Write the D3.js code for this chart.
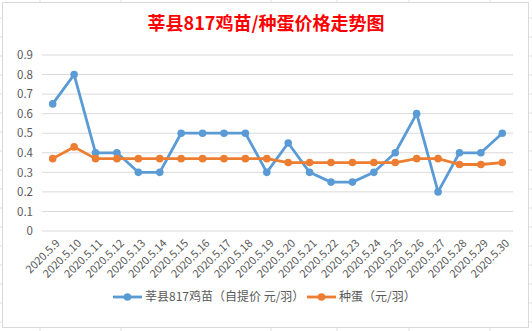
<!DOCTYPE html>
<html>
<head>
<meta charset="utf-8">
<script src="https://cdn.jsdelivr.net/npm/d3@7"></script>
<style>
  body { margin: 0; background: #fff; }
  text { font-family: "Noto Sans CJK SC", "Noto Sans", sans-serif; }
</style>
</head>
<body>
<div id="chart"></div>
<script>
// data
var dates = ["2020.5.9", "2020.5.10", "2020.5.11", "2020.5.12", "2020.5.13", "2020.5.14",
  "2020.5.15", "2020.5.16", "2020.5.17", "2020.5.18", "2020.5.19", "2020.5.20",
  "2020.5.21", "2020.5.22", "2020.5.23", "2020.5.24", "2020.5.25", "2020.5.26",
  "2020.5.27", "2020.5.28", "2020.5.29", "2020.5.30"];
var chicks = [0.65, 0.8, 0.4, 0.4, 0.3, 0.3, 0.5, 0.5, 0.5, 0.5, 0.3, 0.45,
  0.3, 0.25, 0.25, 0.3, 0.4, 0.6, 0.2, 0.4, 0.4, 0.5];
var eggs = [0.37, 0.43, 0.37, 0.37, 0.37, 0.37, 0.37, 0.37, 0.37, 0.37, 0.37, 0.35,
  0.35, 0.35, 0.35, 0.35, 0.35, 0.37, 0.37, 0.34, 0.34, 0.35];
var yTicks = [0, 0.1, 0.2, 0.3, 0.4, 0.5, 0.6, 0.7, 0.8, 0.9];
var seriesNames = ["莘县817鸡苗（自提价 元/羽）", "种蛋（元/羽）"];
var colors = ["#5b9bd5", "#ed7d31"];

var W = 532, H = 331;
var margin = {top: 55, right: 19, bottom: 100, left: 42},
    width = W - margin.left - margin.right,
    height = H - margin.top - margin.bottom;

var root = d3.select("#chart").append("svg")
  .attr("width", W)
  .attr("height", H);

// spreadsheet cells peeking out behind the chart
root.append("rect").attr("width", W).attr("height", H).attr("fill", "#fff");
[40, 121, 271, 337, 409, 490].forEach(function(x) {
  root.append("line").attr("x1", x).attr("x2", x).attr("y1", 0).attr("y2", H)
    .attr("stroke", "#e1e1e1");
});
[18, 37, 56, 75, 94, 113, 132, 151, 170, 189, 208, 227, 246, 265, 284, 303, 322].forEach(function(y) {
  root.append("line").attr("x1", 0).attr("x2", W).attr("y1", y).attr("y2", y)
    .attr("stroke", "#e1e1e1");
});

// chart area
root.append("rect")
  .attr("x", 2.5).attr("y", 2.5)
  .attr("width", 526).attr("height", 325)
  .attr("fill", "#fff")
  .attr("stroke", "#d9d9d9");

// title
root.append("text")
  .attr("x", 266).attr("y", 30)
  .attr("text-anchor", "middle")
  .attr("fill", "#ff0000")
  .style("font-size", "18px")
  .style("font-weight", "bold")
  .text("莘县817鸡苗/种蛋价格走势图");

var svg = root.append("g")
  .attr("transform", "translate(" + margin.left + "," + margin.top + ")");

var x = d3.scaleBand().domain(dates).range([0, width]);
var y = d3.scaleLinear().domain([0, 0.9]).range([height, 0]);

// gridlines
svg.selectAll(".grid").data(yTicks).enter().append("line")
  .attr("x1", 0).attr("x2", width)
  .attr("y1", function(d) { return y(d); })
  .attr("y2", function(d) { return y(d); })
  .attr("stroke", "#d9d9d9");

// y axis
var yAxis = svg.append("g")
  .call(d3.axisLeft(y).tickValues(yTicks).tickSize(0).tickPadding(9)
    .tickFormat(function(d) { return d === 0 ? "0" : d3.format(".1f")(d); }));
yAxis.select(".domain").remove();
yAxis.selectAll("text").attr("fill", "#595959").style("font-size", "11.5px");

// x axis
var xAxis = svg.append("g")
  .attr("transform", "translate(0," + height + ")")
  .call(d3.axisBottom(x).tickSize(0));
xAxis.select(".domain").remove();
xAxis.selectAll("text")
  .attr("fill", "#595959")
  .style("font-size", "11px")
  .attr("text-anchor", "end")
  .attr("dy", "0.35em")
  .attr("transform", "translate(3,8) rotate(-45)");

// lines and markers
[chicks, eggs].forEach(function(vals, i) {
  var pts = vals.map(function(v, j) { return [x(dates[j]) + x.bandwidth() / 2, y(v)]; });
  svg.append("path")
    .attr("d", d3.line()(pts))
    .attr("fill", "none")
    .attr("stroke", colors[i])
    .attr("stroke-width", 2.8)
    .attr("stroke-linejoin", "round");
  svg.selectAll(".m" + i).data(pts).enter().append("circle")
    .attr("cx", function(d) { return d[0]; })
    .attr("cy", function(d) { return d[1]; })
    .attr("r", 3.8)
    .attr("fill", colors[i]);
});

// legend
var legendX = [113, 307];
seriesNames.forEach(function(name, i) {
  var g = root.append("g").attr("transform", "translate(" + legendX[i] + ",297)");
  g.append("line").attr("x1", 0).attr("x2", 29).attr("y1", 0).attr("y2", 0)
    .attr("stroke", colors[i]).attr("stroke-width", 2.8);
  g.append("circle").attr("cx", 14.5).attr("cy", 0).attr("r", 3.8).attr("fill", colors[i]);
  g.append("text").attr("x", 32).attr("y", 0).attr("dy", "0.35em")
    .attr("fill", "#595959").style("font-size", "12px").text(name);
});
</script>
</body>
</html>
